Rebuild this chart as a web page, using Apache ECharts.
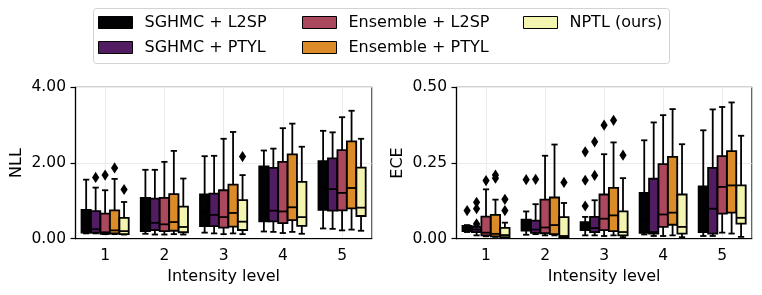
<!DOCTYPE html>
<html>
<head>
<meta charset="utf-8">
<script src="https://cdn.jsdelivr.net/npm/echarts@6/dist/echarts.min.js"></script>
<style>html,body{margin:0;padding:0;background:#fff;}#c{width:762px;height:295px;}</style>
</head>
<body>
<div id="c"></div>
<script>
// ---------- data ----------
const categories = ['1', '2', '3', '4', '5'];
const methods = ['SGHMC + L2SP', 'SGHMC + PTYL', 'Ensemble + L2SP', 'Ensemble + PTYL', 'NPTL (ours)'];
const colors = ['#020104', '#521c62', '#ab485e', '#db8b27', '#f2f4af'];

const nllTicks = [0, 2, 4];
const eceTicks = [0, 0.25, 0.5];

// each row: [lower whisker, Q1, median, Q3, upper whisker] per intensity level
const nllSghmcL2sp = [[0.14, 0.16, 0.35, 0.76, 1.56], [0.13, 0.20, 0.50, 1.08, 1.82], [0.16, 0.33, 0.70, 1.17, 2.18], [0.19, 0.46, 1.00, 1.91, 2.33], [0.27, 0.76, 1.35, 2.05, 2.85]];
const nllSghmcPtyl = [[0.14, 0.16, 0.25, 0.73, 1.35], [0.11, 0.23, 0.42, 1.06, 1.82], [0.14, 0.33, 0.63, 1.19, 2.19], [0.18, 0.46, 0.74, 1.87, 2.38], [0.26, 0.74, 1.31, 2.12, 2.81]];
const nllEnsL2sp = [[0.12, 0.13, 0.17, 0.66, 1.28], [0.11, 0.20, 0.38, 1.08, 2.03], [0.12, 0.29, 0.57, 1.28, 2.64], [0.15, 0.41, 0.72, 2.03, 2.92], [0.22, 0.75, 1.21, 2.34, 3.21]];
const nllEnsPtyl = [[0.12, 0.14, 0.22, 0.75, 1.58], [0.12, 0.21, 0.44, 1.18, 2.32], [0.14, 0.32, 0.68, 1.43, 2.82], [0.18, 0.49, 0.83, 2.23, 3.04], [0.24, 0.80, 1.34, 2.57, 3.38]];
const nllNptl = [[0.11, 0.12, 0.20, 0.55, 0.97], [0.11, 0.17, 0.31, 0.85, 1.59], [0.12, 0.23, 0.45, 1.02, 1.68], [0.13, 0.34, 0.57, 1.50, 2.43], [0.21, 0.60, 0.82, 1.88, 2.64]];

const eceSghmcL2sp = [[0.022, 0.025, 0.033, 0.042, 0.045], [0.013, 0.027, 0.045, 0.063, 0.090], [0.011, 0.028, 0.040, 0.055, 0.072], [0.014, 0.019, 0.060, 0.151, 0.325], [0.009, 0.022, 0.090, 0.173, 0.358]];
const eceSghmcPtyl = [[0.011, 0.022, 0.030, 0.039, 0.045], [0.015, 0.019, 0.030, 0.060, 0.114], [0.011, 0.022, 0.035, 0.072, 0.127], [0.009, 0.017, 0.022, 0.198, 0.384], [0.009, 0.017, 0.099, 0.234, 0.427]];
const eceEnsL2sp = [[0.008, 0.011, 0.020, 0.073, 0.163], [0.011, 0.018, 0.037, 0.129, 0.274], [0.009, 0.028, 0.066, 0.146, 0.279], [0.009, 0.039, 0.080, 0.246, 0.408], [0.020, 0.083, 0.171, 0.273, 0.435]];
const eceEnsPtyl = [[0.006, 0.008, 0.016, 0.079, 0.129], [0.011, 0.015, 0.045, 0.136, 0.311], [0.011, 0.025, 0.077, 0.168, 0.318], [0.011, 0.046, 0.086, 0.270, 0.428], [0.017, 0.086, 0.176, 0.289, 0.450]];
const eceNptl = [[0.003, 0.005, 0.012, 0.036, 0.053], [0.003, 0.005, 0.009, 0.071, 0.118], [0.005, 0.011, 0.022, 0.090, 0.200], [0.005, 0.017, 0.039, 0.146, 0.312], [0.006, 0.050, 0.069, 0.176, 0.340]];

// outliers: [intensity index, value]
const nllOutSghmcL2sp = [];
const nllOutSghmcPtyl = [[0, 1.62]];
const nllOutEnsL2sp = [[0, 1.68]];
const nllOutEnsPtyl = [[0, 1.87]];
const nllOutNptl = [[0, 1.30], [2, 2.17]];

const eceOutSghmcL2sp = [[0, 0.093], [1, 0.195], [2, 0.287], [2, 0.193], [2, 0.108]];
const eceOutSghmcPtyl = [[0, 0.120], [0, 0.099], [0, 0.049], [1, 0.196], [2, 0.320], [2, 0.209]];
const eceOutEnsL2sp = [[0, 0.192], [2, 0.375]];
const eceOutEnsPtyl = [[0, 0.210], [0, 0.200], [2, 0.391]];
const eceOutNptl = [[0, 0.130], [0, 0.093], [1, 0.186], [2, 0.276]];

// ---------- chart ----------
const FONT = 'DejaVu Sans';
const LW = 1.8;
const nllBoxes = [nllSghmcL2sp, nllSghmcPtyl, nllEnsL2sp, nllEnsPtyl, nllNptl];
const eceBoxes = [eceSghmcL2sp, eceSghmcPtyl, eceEnsL2sp, eceEnsPtyl, eceNptl];
const nllOut = [nllOutSghmcL2sp, nllOutSghmcPtyl, nllOutEnsL2sp, nllOutEnsPtyl, nllOutNptl];
const eceOut = [eceOutSghmcL2sp, eceOutSghmcPtyl, eceOutEnsL2sp, eceOutEnsPtyl, eceOutNptl];

function boxRender(k) {
  return function (params, api) {
    const cat = api.value(0);
    const band = api.size([1, 0])[0];
    const slot = band * 0.8 / 5;
    const w = slot * 0.98;
    const cx = api.coord([cat, 0])[0] + (k - 2) * slot;
    const y = i => api.coord([cat, api.value(i)])[1];
    const lo = y(1), q1 = y(2), md = y(3), q3 = y(4), hi = y(5);
    const st = { stroke: '#000', lineWidth: LW, lineCap: 'butt' };
    const cap = w / 2;
    return {
      type: 'group',
      children: [
        { type: 'line', shape: { x1: cx, y1: q1, x2: cx, y2: lo }, style: st },
        { type: 'line', shape: { x1: cx, y1: q3, x2: cx, y2: hi }, style: st },
        { type: 'line', shape: { x1: cx - cap / 2 - 0.8, y1: lo, x2: cx + cap / 2 + 0.8, y2: lo }, style: st },
        { type: 'line', shape: { x1: cx - cap / 2 - 0.8, y1: hi, x2: cx + cap / 2 + 0.8, y2: hi }, style: st },
        { type: 'rect', shape: { x: cx - w / 2, y: q3, width: w, height: q1 - q3 }, style: { fill: colors[k], stroke: '#000', lineWidth: LW } },
        { type: 'line', shape: { x1: cx - w / 2, y1: md, x2: cx + w / 2, y2: md }, style: st }
      ]
    };
  };
}
function outRender(k) {
  return function (params, api) {
    const cat = api.value(0);
    const band = api.size([1, 0])[0];
    const slot = band * 0.8 / 5;
    const p = api.coord([cat, api.value(1)]);
    const cx = p[0] + (k - 2) * slot, cy = p[1];
    const hw = 3.6, hh = 5.6;
    return { type: 'polygon', shape: { points: [[cx, cy - hh], [cx + hw, cy], [cx, cy + hh], [cx - hw, cy]] }, style: { fill: '#000' } };
  };
}

const series = [];
[[nllBoxes, nllOut, 0], [eceBoxes, eceOut, 1]].forEach(([boxes, outs, gi]) => {
  boxes.forEach((arr, k) => {
    series.push({
      type: 'custom', name: methods[k], xAxisIndex: gi, yAxisIndex: gi,
      itemStyle: { color: colors[k] },
      renderItem: boxRender(k),
      encode: { x: 0, y: [1, 2, 3, 4, 5] },
      data: arr.map((d, i) => [i].concat(d)),
      clip: false, z: 3
    });
  });
  outs.forEach((arr, k) => {
    series.push({
      type: 'custom', name: 'out-' + gi + '-' + k, xAxisIndex: gi, yAxisIndex: gi,
      renderItem: outRender(k),
      encode: { x: 0, y: 1 },
      data: arr, clip: false, z: 3
    });
  });
});

const legendCommon = {
  orient: 'vertical', top: 14.5, padding: 0, itemWidth: 34, itemHeight: 12, itemGap: 9,
  icon: 'rect', itemStyle: { borderColor: '#000', borderWidth: 1 },
  textStyle: { fontFamily: FONT, fontSize: 16, color: '#000', lineHeight: 16, padding: [0, 0, 0, 7] },
  selectedMode: false
};

function xAxisCfg(gi) {
  return {
    type: 'category', gridIndex: gi, data: categories, boundaryGap: true,
    name: 'Intensity level', nameLocation: 'middle', nameGap: 30,
    nameTextStyle: { fontFamily: FONT, fontSize: 16, color: '#000' },
    axisLine: { lineStyle: { color: '#000', width: 1.2 } },
    axisTick: { alignWithLabel: true, length: 5, lineStyle: { color: '#000', width: 1.2 } },
    axisLabel: { fontFamily: FONT, fontSize: 15.5, color: '#000', margin: 9 },
    splitLine: { show: true, alignWithLabel: true, lineStyle: { color: '#ebebeb', width: 1 } }
  };
}
function yAxisCfg(gi, name, ticks) {
  return {
    type: 'value', gridIndex: gi, min: ticks[0], max: ticks[ticks.length - 1], interval: ticks[1] - ticks[0],
    name: name, nameLocation: 'middle', nameGap: 51, nameRotate: 90,
    nameTextStyle: { fontFamily: FONT, fontSize: 16, color: '#000' },
    axisLine: { show: true, lineStyle: { color: '#000', width: 1.2 } },
    axisTick: { show: true, length: 5, lineStyle: { color: '#000', width: 1.2 } },
    axisLabel: { fontFamily: FONT, fontSize: 15.5, color: '#000', margin: 9.5, formatter: v => v.toFixed(2) },
    splitLine: { show: true, lineStyle: { color: '#ebebeb', width: 1 } }
  };
}

const option = {
  animation: false,
  backgroundColor: '#fff',
  color: colors,
  grid: [
    { left: 75.5, right: 390.3, top: 87.3, bottom: 56.3, show: true, borderColor: '#555', borderWidth: 1.2, backgroundColor: 'transparent' },
    { left: 456.5, right: 10.3, top: 87.3, bottom: 56.3, show: true, borderColor: '#555', borderWidth: 1.2, backgroundColor: 'transparent' }
  ],
  xAxis: [xAxisCfg(0), xAxisCfg(1)],
  yAxis: [yAxisCfg(0, 'NLL', nllTicks), yAxisCfg(1, 'ECE', eceTicks)],
  legend: [
    Object.assign({ left: 98, data: [methods[0], methods[1]] }, legendCommon),
    Object.assign({ left: 302, data: [methods[2], methods[3]] }, legendCommon),
    Object.assign({ left: 523, data: [methods[4]] }, legendCommon)
  ],
  graphic: [{
    type: 'rect', left: 93, top: 8, z: -10,
    shape: { width: 576, height: 55, r: 3 },
    style: { fill: 'rgba(255,255,255,0)', stroke: '#d3d3d3', lineWidth: 1 }
  }],
  series: series
};

const chart = echarts.init(document.getElementById('c'), null, { renderer: 'canvas' });
chart.setOption(option);
</script>
</body>
</html>
